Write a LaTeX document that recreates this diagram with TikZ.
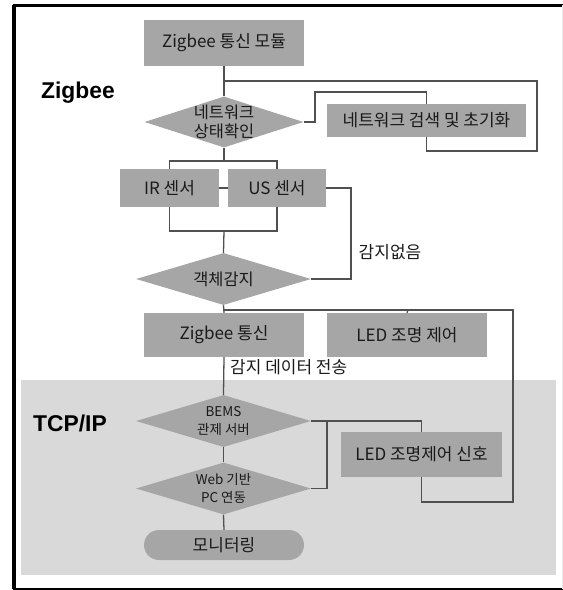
\documentclass[tikz,border=0pt]{standalone}
\usepackage{fontspec}
\setmainfont{Noto Sans CJK KR}
\newfontfamily\headfont{Liberation Sans}
\usetikzlibrary{positioning,shapes.geometric,calc}
\definecolor{boxgray}{HTML}{A6A6A6}
\definecolor{bggray}{HTML}{D9D9D9}
\definecolor{linegray}{HTML}{505050}
\definecolor{txt}{HTML}{1A1A1A}
\tikzset{
  box/.style={fill=boxgray,text=txt,align=center,inner sep=0pt,font=\fontsize{14.5}{17}\selectfont},
  dec/.style={diamond,fill=boxgray,inner sep=0pt,minimum width=5.25cm,minimum height=1.56cm},
  dectxt/.style={text=txt,align=center,font=\fontsize{14}{16}\selectfont},
  dectxtsm/.style={text=txt,align=center,font=\fontsize{11.5}{15}\selectfont},
  ln/.style={draw=linegray,line width=1.1pt},
  lbl/.style={text=txt,inner sep=0pt,font=\fontsize{14.5}{17}\selectfont},
  head/.style={text=black,inner sep=0pt,font=\headfont\bfseries\fontsize{19.5}{22}\selectfont},
}

\begin{document}
\begin{tikzpicture}[x=0.03cm,y=-0.03cm]
\useasboundingbox (0,0) rectangle (563,590);
% frame and TCP/IP area
\fill[bggray] (21,380) rectangle (556,575);
\draw[black,line width=2.4pt] (570,5.5) -- (14,5.5) -- (14,589) -- (570,589);
\draw[black,line width=3.4pt] (14,5.5) -- (14,589);
\draw[black!8,line width=0.8pt] (562,5.5) -- (562,589);

\node[head] (zb) at (78,93) {Zigbee};
\node[head] (tcp) at (70,423) {TCP/IP};

% Zigbee part
\node[box,minimum width=4.8cm,minimum height=1.35cm] (mod) at (224,43) {Zigbee 통신 모듈};
\node[dec,minimum width=4.77cm,minimum height=1.53cm] (chk) at (224,122) {};
\node[dectxt] (chkt) at (chk) {네트워크\\상태확인};
\node[box,minimum width=5.97cm,minimum height=0.99cm] (init) at (426.5,120.5) {네트워크 검색 및 초기화};
\node[box,minimum width=2.97cm,minimum height=1.14cm] (ir) at (169.5,188) {IR 센서};
\node[box,minimum width=2.94cm,minimum height=1.14cm] (us) at (277,188) {US 센서};
\node[dec] (det) at (223.5,279) {};
\node[dectxt] (dett) at (det) {객체감지};
\node[lbl] (none) at (390,252) {감지없음};
\node[box,minimum width=4.8cm,minimum height=1.32cm] (zig) at (224,335) {Zigbee 통신};
\node[box,minimum width=4.8cm,minimum height=1.32cm] (led) at (407,335) {LED 조명 제어};
\node[lbl,anchor=west] (send) at (230,367) {감지 데이터 전송};

% TCP/IP part
\node[dec] (bems) at (223.5,421) {};
\node[dectxtsm] (bemst) at (bems) {BEMS\\관제 서버};
\node[dec] (web) at (223.5,488.5) {};
\node[dectxtsm] (webt) at (web) {Web 기반\\PC 연동};
\node[box,minimum width=4.8cm,minimum height=0.9cm,rounded corners=0.45cm] (mon) at (224,545) {모니터링};
\node[box,minimum width=4.83cm,minimum height=1.35cm] (sig) at (421.5,454.5) {LED 조명제어 신호};

% connectors
\draw[ln] (mod) -- (chk);
\draw[ln] (224,81) -- (537,81) -- (537,151) -| (init.south);
\draw[ln] (chk.east) -- (315,122) -- (315,92) -| (init.north);
\draw[ln] (chk.south) -- (224,161);
\draw[ln] (ir.north) |- (224,161) -| (us.north);
\draw[ln] (ir) -- (us);
\draw[ln] (ir.south) |- (224,231) -| (us.south);
\draw[ln] (224,231) -- (det.north);
\draw[ln] (us.east) -- (351,188) |- (det.east);
\draw[ln] (det.south) -- (zig.north);
\draw[ln] (224,310) -- (513,310) -- (513,502) -| (sig.south);
\draw[ln] (408,310) -- (led.north);
\draw[ln] (zig.south) -- (bems.north);
\draw[ln] (bems.east) -| (sig.north);
\draw[ln] (327,421) |- (web.east);
\draw[ln] (bems.south) -- (web.north);
\draw[ln] (web.south) -- (mon.north);
\end{tikzpicture}
\end{document}
